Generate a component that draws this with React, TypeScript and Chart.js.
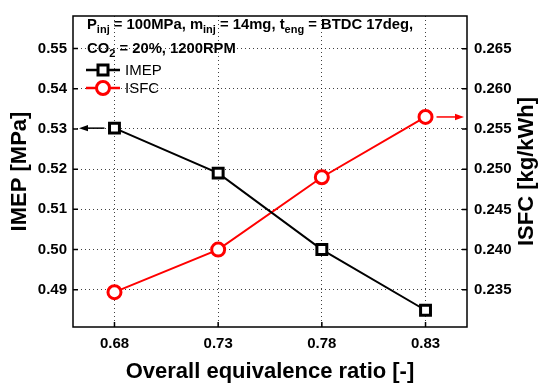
import React, { useEffect, useRef } from "react";
import { Chart, registerables } from "chart.js";
Chart.register(...registerables);

const ratios = [0.68, 0.73, 0.78, 0.83];
const imep = [0.5302, 0.519, 0.5, 0.4849];
const isfc = [0.2347, 0.24, 0.249, 0.2565];
const xTicks = [0.68, 0.73, 0.78, 0.83];
const imepTicks = [0.49, 0.5, 0.51, 0.52, 0.53, 0.54, 0.55];
const isfcTicks = [0.235, 0.24, 0.245, 0.25, 0.255, 0.26, 0.265];

const FONT = "'Liberation Sans', Arial, Helvetica, sans-serif";

function drawRich(ctx: CanvasRenderingContext2D, parts: [string, boolean][], x: number, y: number) {
  let cx = x;
  for (const [t, sub] of parts) {
    ctx.font = sub ? `bold 11px ${FONT}` : `bold 14.8px ${FONT}`;
    ctx.fillText(t, cx, sub ? y + 4 : y);
    cx += ctx.measureText(t).width;
  }
}

function arrow(ctx: CanvasRenderingContext2D, x0: number, x1: number, y: number, color: string) {
  const dir = x1 > x0 ? 1 : -1;
  ctx.strokeStyle = color;
  ctx.fillStyle = color;
  ctx.lineWidth = 1.5;
  ctx.beginPath();
  ctx.moveTo(x0, y);
  ctx.lineTo(x1 - dir * 6, y);
  ctx.stroke();
  ctx.beginPath();
  ctx.moveTo(x1, y);
  ctx.lineTo(x1 - dir * 9, y - 3.2);
  ctx.lineTo(x1 - dir * 9, y + 3.2);
  ctx.closePath();
  ctx.fill();
}

const overlay = {
  id: "overlay",
  afterDraw(chart: any) {
    const { ctx, chartArea: ca, scales } = chart;
    const xs = scales.x, ys = scales.y, y1 = scales.y1;
    ctx.save();
    // inward ticks
    ctx.strokeStyle = "#000";
    ctx.lineWidth = 1.5;
    ctx.beginPath();
    imepTicks.forEach((v) => {
      const p = ys.getPixelForValue(v);
      ctx.moveTo(ca.left, p);
      ctx.lineTo(ca.left + 5, p);
    });
    isfcTicks.forEach((v) => {
      const p = y1.getPixelForValue(v);
      ctx.moveTo(ca.right, p);
      ctx.lineTo(ca.right - 5, p);
    });
    xTicks.forEach((v) => {
      const p = xs.getPixelForValue(v);
      ctx.moveTo(p, ca.bottom);
      ctx.lineTo(p, ca.bottom - 5);
    });
    ctx.stroke();
    // frame
    ctx.lineWidth = 1.5;
    ctx.strokeRect(ca.left, ca.top, ca.right - ca.left, ca.bottom - ca.top);

    // arrows
    arrow(ctx, xs.getPixelForValue(ratios[0]) - 10, ca.left + 6, ys.getPixelForValue(imep[0]), "#000");
    arrow(ctx, xs.getPixelForValue(ratios[3]) + 11, ca.right - 3, y1.getPixelForValue(isfc[3]), "#ff0000");

    // axis titles
    ctx.fillStyle = "#000";
    ctx.font = `bold 22px ${FONT}`;
    ctx.textAlign = "center";
    ctx.textBaseline = "middle";
    const cy = (ca.top + ca.bottom) / 2;
    ctx.save();
    ctx.translate(20, cy);
    ctx.rotate(-Math.PI / 2);
    ctx.fillText("IMEP [MPa]", 0, 0);
    ctx.restore();
    ctx.save();
    ctx.translate(527, cy);
    ctx.rotate(-Math.PI / 2);
    ctx.fillText("ISFC [kg/kWh]", 0, 0);
    ctx.restore();
    ctx.textBaseline = "alphabetic";
    ctx.fillText("Overall equivalence ratio [-]", (ca.left + ca.right) / 2, 378);

    // annotation
    ctx.textAlign = "left";
    drawRich(ctx, [["P", false], ["inj", true], [" = 100MPa, m", false], ["inj", true], [" = 14mg, t", false], ["eng", true], [" = BTDC 17deg,", false]], 87, 29);
    drawRich(ctx, [["CO", false], ["2", true], [" = 20%, 1200RPM", false]], 87, 53);

    // legend
    const items = [
      { label: "IMEP", color: "#000", style: "rect", y: 70 },
      { label: "ISFC", color: "#ff0000", style: "circle", y: 88 },
    ];
    items.forEach((it) => {
      ctx.strokeStyle = it.color;
      ctx.lineWidth = 2.5;
      ctx.beginPath();
      ctx.moveTo(86, it.y);
      ctx.lineTo(120, it.y);
      ctx.stroke();
      ctx.fillStyle = "#fff";
      ctx.lineWidth = 3;
      ctx.beginPath();
      if (it.style === "rect") {
        ctx.rect(103 - 5, it.y - 5, 10, 10);
      } else {
        ctx.arc(103, it.y, 6.5, 0, Math.PI * 2);
      }
      ctx.fill();
      ctx.stroke();
      ctx.fillStyle = "#000";
      ctx.font = `15px ${FONT}`;
      ctx.textBaseline = "middle";
      ctx.fillText(it.label, 125, it.y + 1);
    });
    ctx.restore();
  },
};

export default function App() {
  const ref = useRef<HTMLCanvasElement>(null);
  useEffect(() => {
    const grid = {
      color: "rgba(0,0,0,0.75)",
      lineWidth: 1,
      drawTicks: false,
    };
    const border = { display: false, dash: [1, 3] };
    const tickFont = { family: FONT, size: 15, weight: "bold" as const };
    const chart = new Chart(ref.current!, {
      type: "line",
      data: {
        datasets: [
          {
            label: "IMEP",
            data: ratios.map((r, i) => ({ x: r, y: imep[i] })),
            yAxisID: "y",
            borderColor: "#000",
            borderWidth: 2,
            pointStyle: "rect",
            pointRadius: 7,
            pointBorderWidth: 3,
            pointBackgroundColor: "#fff",
            pointBorderColor: "#000",
          },
          {
            label: "ISFC",
            data: ratios.map((r, i) => ({ x: r, y: isfc[i] })),
            yAxisID: "y1",
            borderColor: "#ff0000",
            borderWidth: 2,
            pointStyle: "circle",
            pointRadius: 6.5,
            pointBorderWidth: 3,
            pointBackgroundColor: "#fff",
            pointBorderColor: "#ff0000",
          },
        ],
      },
      options: {
        responsive: false,
        animation: false,
        devicePixelRatio: 1,
        layout: { padding: { top: 10, left: 0, right: 0, bottom: 0 } },
        plugins: { legend: { display: false }, tooltip: { enabled: false } },
        scales: {
          x: {
            type: "linear",
            min: 0.66,
            max: 0.85,
            grid,
            border,
            afterBuildTicks: (a: any) => { a.ticks = xTicks.map((v) => ({ value: v })); },
            afterFit: (s: any) => { s.height = 58; },
            ticks: { font: tickFont, color: "#000", padding: 8, maxRotation: 0, callback: (v: any) => Number(v).toFixed(2) },
          },
          y: {
            type: "linear",
            position: "left",
            min: 0.48073,
            max: 0.5581,
            grid,
            border,
            afterBuildTicks: (a: any) => { a.ticks = imepTicks.map((v) => ({ value: v })); },
            afterFit: (s: any) => { s.width = 73; },
            ticks: { font: tickFont, color: "#000", padding: 6, callback: (v: any) => Number(v).toFixed(2) },
          },
          y1: {
            type: "linear",
            position: "right",
            min: 0.23037,
            max: 0.26906,
            grid: { drawOnChartArea: false, drawTicks: false },
            border: { display: false },
            afterBuildTicks: (a: any) => { a.ticks = isfcTicks.map((v) => ({ value: v })); },
            afterFit: (s: any) => { s.width = 72; },
            ticks: { font: tickFont, color: "#000", padding: 7, callback: (v: any) => Number(v).toFixed(3) },
          },
        },
      },
      plugins: [overlay],
    });
    return () => chart.destroy();
  }, []);
  return (
    <div style={{ position: "absolute", left: 0, top: 0, width: 539, height: 385, background: "#fff" }}>
      <canvas ref={ref} width={539} height={385} style={{ display: "block" }} />
    </div>
  );
}
